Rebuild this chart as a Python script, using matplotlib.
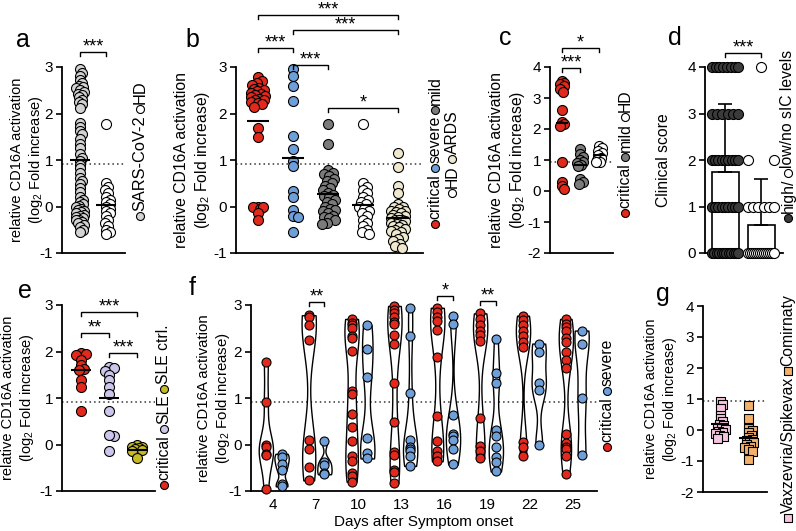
import numpy as np
import matplotlib
matplotlib.use("Agg")
import matplotlib.pyplot as plt

plt.rcParams["font.family"] = ["Liberation Sans", "DejaVu Sans"]
plt.rcParams["mathtext.fontset"] = "custom"
plt.rcParams["mathtext.rm"] = "Liberation Sans"
plt.rcParams["mathtext.it"] = "Liberation Sans:italic"
plt.rcParams["axes.unicode_minus"] = False

RED = "#e3281c"
BLUE = "#6e9fd9"
MILD = "#7b7b7b"
SARS = "#d3d3d3"
ARDS = "#eee8cf"
SLE = "#cdc6ea"
SLEC = "#c6bb24"
HIGH = "#3b3b3b"
PINK = "#f5c4df"
ORANGE = "#f2b06a"

# ---- data ----
a_sars = [2.95, 2.88, 2.8, 2.72, 2.65, 2.6, 2.57, 2.55, 2.5, 2.47, 2.43, 2.4, 2.35, 2.3, 2.25, 2.2, 2.12,
          1.8, 1.7, 1.62, 1.55, 1.45, 1.35, 1.25, 1.12, 1.05, 0.98, 0.9, 0.82, 0.72, 0.62, 0.55, 0.48, 0.4, 0.32,
          0.2, 0.15, 0.1, 0.05, 0.02, -0.02, -0.05, -0.08, -0.1, -0.12, -0.15, -0.18, -0.2, -0.22, -0.25,
          -0.28, -0.3, -0.33, -0.36, -0.4, -0.45, -0.5, -0.55]
a_hd = [1.78, 0.5, 0.42, 0.35, 0.28, 0.2, 0.15, 0.1, 0.05, 0.0, -0.05, -0.1, -0.15, -0.2, -0.28,
        -0.35, -0.42, -0.5, -0.55, -0.6]

b_critical = [2.78, 2.7, 2.65, 2.62, 2.55, 2.52, 2.5, 2.48, 2.45, 2.42, 2.4, 2.38, 2.35, 2.32, 2.3,
              2.28, 2.25, 2.22, 2.2, 2.15, 1.68, 1.5, 0.0, -0.02, -0.05, 0.0, -0.15, -0.28]
b_severe = [2.95, 2.8, 2.6, 2.27, 1.52, 1.24, 0.98, 0.87, 0.33, 0.2, -0.08, -0.2, -0.22, -0.55]
b_mild = [1.78, 1.35, 0.78, 0.72, 0.7, 0.65, 0.6, 0.55, 0.5, 0.45, 0.4, 0.35, 0.3, 0.25, 0.22, 0.2,
          0.15, 0.1, 0.05, 0.0, -0.05, -0.08, -0.1, -0.15, -0.2, -0.22, -0.25, -0.3, -0.35, -0.38]
b_hd = a_hd
b_ards = [1.15, 0.85, 0.45, 0.3, 0.05, 0.0, -0.02, -0.05, -0.1, -0.1, -0.12, -0.15, -0.18, -0.2, -0.22,
          -0.25, -0.28, -0.3, -0.3, -0.32, -0.35, -0.38, -0.4, -0.42, -0.45, -0.48, -0.5, -0.52, -0.55,
          -0.6, -0.65, -0.7, -0.75, -0.8, -0.85, -0.9]

c_critical = [3.55, 3.5, 3.45, 3.38, 3.3, 3.2, 2.6, 2.22, 2.15, 2.1, 0.95, 0.3, 0.15, 0.05]
c_mild = [1.35, 1.2, 1.1, 1.0, 0.95, 0.9, 0.85, 0.8, 0.4, 0.3, 0.22]
c_hd = [1.45, 1.38, 1.3, 1.22, 1.15, 1.05, 1.0, 0.95, 0.92]

d_scores = [4, 3, 2, 1, 0]
d_high_counts = [8, 6, 9, 9, 12]
d_low_counts = [1, 0, 2, 6, 14]

e_critical = [1.97, 1.95, 1.93, 1.82, 1.7, 1.62, 1.6, 1.38, 1.24, 0.71]
e_sle = [1.66, 1.64, 1.59, 1.49, 1.38, 1.24, 1.09, 0.72, 0.18, 0.21, -0.14]
e_ctrl = [-0.02, -0.05, -0.06, -0.08, -0.1, -0.12, -0.14, -0.3]

f_days = [4, 7, 10, 13, 16, 19, 22, 25]
f_critical = [
    [1.78, 0.92, 0.0, -0.06, -0.2, -0.22, -0.95],
    [2.78, 2.75, 2.58, 2.25, 0.1, -0.1, -0.48, -0.77],
    [2.7, 2.62, 2.57, 2.5, 2.34, 2.3, 2.02, 1.14, 1.08, 0.65, 0.37, 0.07, -0.24, -0.36, -0.62, -0.68, -0.8],
    [2.98, 2.9, 2.82, 2.75, 2.64, 2.6, 2.36, 2.16, 1.32, 0.48, -0.16, -0.23, -0.55, -0.6, -0.83],
    [2.94, 2.85, 2.75, 2.65, 2.47, 1.88, 0.62, 0.08, -0.14, -0.25, -0.36],
    [2.82, 2.7, 2.58, 2.45, 2.35, 2.23, 0.58, -0.04, -0.14, -0.3],
    [2.77, 2.68, 2.56, 2.45, 2.33, 2.2, 2.1, 0.06, -0.05, -0.25],
    [2.7, 2.6, 2.52, 2.45, 2.3, 2.2, 2.0, 1.82, 1.65, 0.22, 0.03, -0.05, -0.09, -0.25, -0.64],
]
f_severe = [
    [-0.2, -0.27, -0.41, -0.55, -0.86, -0.9],
    [0.07, -0.37, -0.44, -0.62, -0.64],
    [2.57, 2.05, 1.46, 0.13, -0.18, -0.3],
    [2.94, 2.34, 1.1, 0.1, -0.05, -0.1, -0.15, -0.25, -0.46],
    [2.77, 2.59, 0.63, 0.23, 0.18, 0.1, -0.09, -0.43],
    [2.27, 1.54, 1.32, 0.32, 0.18, -0.05, -0.27, -0.37, -0.58],
    [2.17, 1.98, 1.33, 1.18, 0.0],
    [2.45, 2.17, 1.0, -0.23],
]

g_vax = [0.95, 0.85, 0.72, 0.5, 0.38, 0.28, 0.2, 0.15, 0.1, 0.06, 0.02, -0.02, -0.06, -0.1, -0.15,
         -0.2, -0.25]
g_com = [0.82, 0.38, 0.05, 0.0, -0.08, -0.15, -0.22, -0.28, -0.32, -0.36, -0.4, -0.45, -0.5, -0.55,
         -0.62, -0.68, -0.95]

YL = "relative CD16A activation\n(log$_2$ Fold increase)"
THRESH = 0.92

W, H = 796, 531
fig = plt.figure(figsize=(W / 100, H / 100), dpi=100)


def panel(l, t, r, b, ylim, yticks, xlim):
    ax = fig.add_axes([l / W, 1 - b / H, (r - l) / W, (b - t) / H])
    ax.set_xlim(xlim)
    ax.set_ylim(ylim)
    ax.set_yticks(yticks)
    ax.set_xticks([])
    for s in ["top", "right"]:
        ax.spines[s].set_visible(False)
    for s in ["left", "bottom"]:
        ax.spines[s].set_linewidth(1.3)
    ax.tick_params(axis="y", direction="out", length=4.5, width=1.2, labelsize=11, pad=2)
    ax.patch.set_visible(False)
    return ax


def ylab(ax, text, right_px, size):
    pos = ax.get_position()
    ax.set_ylabel(text, fontsize=size, linespacing=1.25)
    ax.yaxis.set_label_coords((right_px / W - pos.x0) / pos.width, 0.5)


def swarm(ax, vals, mind, maxpx):
    ys = ax.transData.transform(np.column_stack([np.zeros_like(vals), vals]))[:, 1]
    cands = [0.0]
    k = 1
    while k <= maxpx:
        cands += [k, -k]
        k += 1
    px, py = [], []
    out = np.zeros(len(vals))
    for i in np.argsort(-vals, kind="stable"):
        best, bestd = 0.0, -1.0
        for c in cands:
            dd = np.min(np.hypot(np.array(px) - c, np.array(py) - ys[i])) if px else np.inf
            if dd >= mind:
                best = c
                break
            if dd > bestd:
                best, bestd = c, dd
        px.append(best)
        py.append(ys[i])
        out[i] = best
    return out


def dots(ax, x, vals, color, spread, frac=0.5, d_px=10, marker="o", hw_px=10, mean=True):
    vals = np.asarray(vals, float)
    ppu = ax.transData.transform((1, 0))[0] - ax.transData.transform((0, 0))[0]
    off = swarm(ax, vals, d_px * frac, spread) / ppu
    ax.scatter(x + off, vals, s=(d_px * 0.72) ** 2, marker=marker, facecolor=color,
               edgecolor="black", linewidth=0.8, zorder=3, clip_on=False)
    if mean:
        ax.hlines(vals.mean(), x - hw_px / ppu, x + hw_px / ppu, color="black", lw=1.5, zorder=4)


def dotted(ax):
    ax.axhline(THRESH, color="#333333", lw=1.1, ls=(0, (1, 2)), zorder=1)


# ---- panel a ----
ax_a = panel(62, 67, 125, 253, (-1, 3), range(-1, 4), (-0.69, 1.73))
dotted(ax_a)
dots(ax_a, 0, a_sars, SARS, 4.5, frac=0.35)
dots(ax_a, 1, a_hd, "white", 4.5, frac=0.4)
ylab(ax_a, YL, 45, 10.5)

# ---- panel b ----
ax_b = panel(236, 67, 423, 253, (-1, 3), range(-1, 4), (-0.63, 4.71))
dotted(ax_b)
for i, (v, col) in enumerate([(b_critical, RED), (b_severe, BLUE), (b_mild, MILD),
                              (b_hd, "white"), (b_ards, ARDS)]):
    dots(ax_b, i, v, col, 7, frac=0.5, hw_px=11)
ylab(ax_b, YL, 212, 11.3)

# ---- panel c ----
ax_c = panel(550, 67, 613, 253, (-2, 4), range(-2, 5), (-0.65, 2.76))
dotted(ax_c)
dots(ax_c, 0, c_critical, RED, 2, frac=0.4, hw_px=6)
dots(ax_c, 1, c_mild, MILD, 3, frac=0.4, hw_px=6)
dots(ax_c, 2, c_hd, "white", 3, frac=0.4, hw_px=6)
ylab(ax_c, YL, 527, 11.3)

# ---- panel d ----
ax_d = panel(705, 67, 783, 253, (0, 4), range(0, 5), (-0.56, 1.61))
for x, counts, col in [(0, d_high_counts, HIGH), (1, d_low_counts, "white")]:
    vals = np.repeat(d_scores, counts).astype(float)
    ax_d.bar(x, vals.mean(), width=0.75, color="white", edgecolor="black", lw=1.2, zorder=1)
    ax_d.errorbar(x, vals.mean(), yerr=[[0], [vals.std(ddof=1)]], fmt="none", ecolor="black",
                  elinewidth=1.2, capsize=5, capthick=1.2, zorder=2)
    for sc, n in zip(d_scores, counts):
        if n == 0:
            continue
        xs = x + (np.linspace(-0.37, 0.37, n) if n > 1 else np.zeros(1))
        ax_d.scatter(xs, np.full(n, sc), s=52, facecolor=col, edgecolor="black", linewidth=0.8,
                     zorder=3, clip_on=False)
ylab(ax_d, "Clinical score", 671, 11.3)

# ---- panel e ----
ax_e = panel(62, 305, 155, 491, (-1, 3), range(-1, 4), (-0.68, 2.64))
dotted(ax_e)
dots(ax_e, 0, e_critical, RED, 5, frac=0.45)
dots(ax_e, 1, e_sle, SLE, 5, frac=0.45)
dots(ax_e, 2, e_ctrl, SLEC, 5, frac=0.45)
ylab(ax_e, YL, 36, 10.5)

# ---- panel f ----
ax_f = panel(251, 305, 597, 491, (-1, 3), range(-1, 4), (2.46, 26.68))
dotted(ax_f)
for data, shift, col in [(f_critical, -0.5, RED), (f_severe, 0.6, BLUE)]:
    pos = np.array(f_days) + shift
    parts = ax_f.violinplot(data, positions=pos, widths=1.0, showextrema=False, bw_method=0.4)
    for body in parts["bodies"]:
        body.set_facecolor("white")
        body.set_edgecolor("black")
        body.set_linewidth(1.0)
        body.set_alpha(1)
        body.set_zorder(2)
    for p, v in zip(pos, data):
        ax_f.scatter(np.full(len(v), p), v, s=42, facecolor=col, edgecolor="black",
                     linewidth=0.8, zorder=3, clip_on=False)
ax_f.set_xticks(f_days)
ax_f.tick_params(axis="x", length=0, labelsize=11, pad=5)
ax_f.set_xlabel("Days after Symptom onset", fontsize=11, labelpad=2)
ylab(ax_f, YL, 232, 10.8)

# ---- panel g ----
ax_g = panel(703, 306, 767, 492, (-2, 4), range(-2, 5), (-0.6, 1.68))
dotted(ax_g)
dots(ax_g, 0, g_vax, PINK, 5, frac=0.4, d_px=9, marker="s", hw_px=9)
dots(ax_g, 1, g_com, ORANGE, 5, frac=0.4, d_px=9, marker="s", hw_px=9)
ylab(ax_g, YL, 679, 10.3)

# ---- overlay in pixel coordinates: letters, brackets, legends ----
ov = fig.add_axes([0, 0, 1, 1])
ov.set_xlim(0, W)
ov.set_ylim(H, 0)
ov.axis("off")
ov.set_zorder(10)

for letter, x, y in [("a", 23, 47), ("b", 192, 47), ("c", 505, 45), ("d", 675, 45),
                     ("e", 25, 298), ("f", 192, 295), ("g", 663, 301)]:
    ov.text(x, y, letter, fontsize=18, ha="center", va="baseline")


def bracket(ax, x1, x2, y, text, leg=4):
    p1 = ax.transData.transform((x1, 0))[0]
    p2 = ax.transData.transform((x2, 0))[0]
    ov.plot([p1, p1, p2, p2], [y + leg, y, y, y + leg], color="black", lw=1.0,
            solid_joinstyle="miter", clip_on=False)
    ov.text((p1 + p2) / 2, y - 0.5, text, fontsize=13, ha="center", va="baseline")


bracket(ax_a, 0, 1, 52, "***")
bracket(ax_b, 0, 4, 15, "***")
bracket(ax_b, 1, 4, 30, "***")
bracket(ax_b, 0, 1, 48, "***")
bracket(ax_b, 1, 2, 65, "***")
bracket(ax_b, 2, 4, 108, "*")
bracket(ax_c, 0, 2, 48, "*")
bracket(ax_c, 0, 1, 68, "***")
bracket(ax_d, 0, 1, 53, "***")
bracket(ax_e, 0, 2, 312, "***")
bracket(ax_e, 0, 1, 333, "**")
bracket(ax_e, 1, 2, 353, "***")
bracket(ax_f, 6.5, 7.6, 302, "**")
bracket(ax_f, 15.5, 16.6, 296, "*")
bracket(ax_f, 18.5, 19.6, 301, "**")

renderer = fig.canvas.get_renderer()


def vleg(x, y, entries, fs=11.3, msize=8):
    r = msize / 2
    for marker, face, label in entries:
        ov.scatter([x], [y], s=(msize * 0.72) ** 2, marker=marker, facecolor=face,
                   edgecolor="black", linewidth=0.8, clip_on=False)
        t = ov.text(x, y - r - 1, label, rotation=90, rotation_mode="anchor",
                    ha="left", va="center", fontsize=fs)
        h = t.get_window_extent(renderer).height
        y = y - r - 1 - h - 2 - r


vleg(140, 216, [("o", SARS, "SARS-CoV-2"), ("o", "white", "HD")], fs=11.8)
vleg(435, 224, [("o", RED, "critical"), ("o", BLUE, "severe"), ("o", MILD, "mild")])
vleg(452, 193, [("o", "white", "HD"), ("o", ARDS, "ARDS")])
vleg(625, 213, [("o", RED, "critical"), ("o", MILD, "mild"), ("o", "white", "HD")])
vleg(788, 218, [("o", HIGH, "high/"), ("o", "white", "low/no sIC levels")])
vleg(164, 485, [("o", RED, "critical"), ("o", SLE, "SLE"), ("o", SLEC, "SLE ctrl.")])
vleg(607, 447, [("o", RED, "critical"), ("o", BLUE, "severe")])
vleg(788, 518, [("s", PINK, "Vaxzevria/Spikevax"), ("s", ORANGE, "Comirnaty")])

fig.savefig("out.png", dpi=100)
